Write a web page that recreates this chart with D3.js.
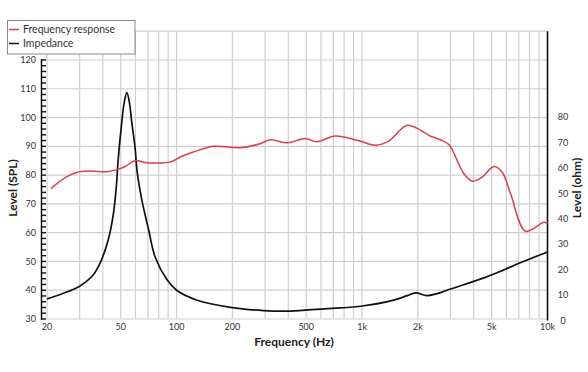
<!DOCTYPE html>
<html>
<head>
<meta charset="utf-8">
<script src="https://cdn.jsdelivr.net/npm/d3@7"></script>
<style>
  body { margin: 0; background: #fff; }
  svg { display: block; font-family: Lato, "Noto Sans", sans-serif; }
</style>
</head>
<body>
<script>
// frequency response (Hz, dB SPL)
const frFreq = [21, 24.5, 28.9, 34.1, 42, 47.6, 52.8, 59.6, 69, 79.8, 92, 104.6, 123, 158, 220, 282, 320, 394, 494, 570, 718, 940, 1182, 1392, 1761, 2340, 2640, 2938, 3540, 3950, 4448, 5140, 5700, 6325, 7620, 9570, 10000];
const frLevel = [75.3, 78.7, 80.9, 81.4, 81.2, 81.9, 83.0, 85.0, 84.3, 84.2, 84.5, 86.3, 88.0, 90.0, 89.5, 90.9, 92.3, 91.2, 92.7, 91.6, 93.6, 92.1, 90.4, 91.8, 97.3, 93.5, 92.3, 90.6, 80.5, 77.9, 79.3, 83.0, 81.0, 73.5, 60.5, 63.6, 63.1];

// impedance (Hz, ohm)
const zFreq = [20, 24.5, 30, 34.9, 38.6, 42.8, 45.6, 47.2, 48.5, 50.6, 52.2, 53.9, 55.6, 57.3, 59.6, 61.4, 64.9, 70.5, 76.6, 88.6, 100, 129, 195, 294, 410, 620, 980, 1484, 1752, 1948, 2230, 2540, 3000, 4540, 5580, 7460, 10000];
const zOhm = [8.5, 10.7, 13.5, 17.3, 22.5, 31.8, 42, 52, 64, 78, 86, 89.7, 86, 78, 68.5, 58, 47.5, 36, 25, 16.1, 11.9, 8.0, 5.2, 3.9, 3.7, 4.6, 5.6, 8.0, 9.8, 10.9, 9.8, 10.6, 12.4, 16.8, 19.4, 23.3, 27.0];

const xTicks = [20, 50, 100, 200, 500, 1000, 2000, 5000, 10000];
const xTickLabels = ["20", "50", "100", "200", "500", "1k", "2k", "5k", "10k"];
const splTicks = [30, 40, 50, 60, 70, 80, 90, 100, 110, 120];
const ohmTicks = [0, 10, 20, 30, 40, 50, 60, 70, 80];
const legendNames = ["Frequency response", "Impedance"];

const W = 588, H = 372;
const red = "#d8404a";

const svg = d3.select("body").append("svg")
    .attr("width", W)
    .attr("height", H);

const x = d3.scaleLog().domain([20, 10000]).range([47, 547.5]);
const y = d3.scaleLinear().domain([30, 130]).range([319, 31.2]);
const yz = d3.scaleLinear().domain([0, 80]).range([320.5, 117.3]);

// grid
var gridX = [];
[10, 100, 1000].forEach(d => d3.range(1, 10).forEach(k => gridX.push(d * k)));
gridX = gridX.filter(f => f >= 20 && f < 10000);

const grid = svg.append("g");
grid.selectAll(".gv")
    .data(gridX)
    .join("line")
    .attr("x1", d => x(d)).attr("x2", d => x(d))
    .attr("y1", y(130)).attr("y2", y(30))
    .attr("stroke", "#cfcfcf")
    .attr("stroke-width", 1.2);

grid.selectAll(".gh")
    .data(d3.range(30, 131, 10))
    .join("line")
    .attr("x1", x(20)).attr("x2", x(10000))
    .attr("y1", d => y(d)).attr("y2", d => y(d))
    .attr("stroke", "#cfcfcf")
    .attr("stroke-width", 1.2);

// left axis with minor ticks
const leftAxis = svg.append("g");
leftAxis.append("line")
    .attr("x1", 41.5).attr("x2", 41.5)
    .attr("y1", y(120) - 1).attr("y2", y(30) + 1)
    .attr("stroke", "#111").attr("stroke-width", 1.5);
leftAxis.selectAll(".mt")
    .data(d3.range(30, 121, 2))
    .join("line")
    .attr("x1", 41.5).attr("x2", 46)
    .attr("y1", d => y(d)).attr("y2", d => y(d))
    .attr("stroke", "#111").attr("stroke-width", 1.4);
leftAxis.selectAll("text")
    .data(splTicks)
    .join("text")
    .attr("x", 36)
    .attr("y", d => y(d))
    .attr("dy", "0.35em")
    .attr("text-anchor", "end")
    .attr("font-size", 9)
    .attr("fill", "#333")
    .text(d => d);

// right axis
svg.append("line")
    .attr("x1", x(10000)).attr("x2", x(10000))
    .attr("y1", y(130)).attr("y2", y(30) + 1.5)
    .attr("stroke", "#111").attr("stroke-width", 1.6);
svg.append("g").selectAll("text")
    .data(ohmTicks)
    .join("text")
    .attr("x", 563)
    .attr("y", d => yz(d))
    .attr("dy", "0.35em")
    .attr("text-anchor", "middle")
    .attr("font-size", 9)
    .attr("fill", "#333")
    .text(d => d);

// bottom labels
svg.append("g").selectAll("text")
    .data(xTicks)
    .join("text")
    .attr("x", d => x(d))
    .attr("y", 327)
    .attr("dy", "0.35em")
    .attr("text-anchor", "middle")
    .attr("font-size", 9)
    .attr("fill", "#333")
    .text((d, i) => xTickLabels[i]);

// axis titles
svg.append("text")
    .attr("x", 294).attr("y", 342)
    .attr("dy", "0.35em")
    .attr("text-anchor", "middle")
    .attr("font-size", 12).attr("font-weight", "bold")
    .attr("fill", "#222")
    .text("Frequency (Hz)");
svg.append("text")
    .attr("transform", "translate(13,188) rotate(-90)")
    .attr("dy", "0.35em")
    .attr("text-anchor", "middle")
    .attr("font-size", 12).attr("font-weight", "bold")
    .attr("fill", "#222")
    .text("Level (SPL)");
svg.append("text")
    .attr("transform", "translate(577,188) rotate(-90)")
    .attr("dy", "0.35em")
    .attr("text-anchor", "middle")
    .attr("font-size", 12).attr("font-weight", "bold")
    .attr("fill", "#222")
    .text("Level (ohm)");

// curves
const frData = frFreq.map((f, i) => [f, frLevel[i]]);
const zData = zFreq.map((f, i) => [f, zOhm[i]]);

svg.append("path")
    .datum(zData)
    .attr("fill", "none")
    .attr("stroke", "#111")
    .attr("stroke-width", 1.7)
    .attr("d", d3.line().x(d => x(d[0])).y(d => yz(d[1])).curve(d3.curveCatmullRom.alpha(0.5)));

svg.append("path")
    .datum(frData)
    .attr("fill", "none")
    .attr("stroke", red)
    .attr("stroke-width", 1.5)
    .attr("d", d3.line().x(d => x(d[0])).y(d => y(d[1])).curve(d3.curveCatmullRom.alpha(0.5)));

// legend
const legend = svg.append("g");
legend.append("rect")
    .attr("x", 7.5).attr("y", 20.5)
    .attr("width", 127.5).attr("height", 33.5)
    .attr("fill", "#fff")
    .attr("stroke", "#888").attr("stroke-width", 1);
legend.selectAll(".li")
    .data(legendNames)
    .join("g")
    .each(function(d, i) {
        const gi = d3.select(this);
        const cy = 29.5 + i * 14;
        gi.append("line")
            .attr("x1", 9).attr("x2", 19)
            .attr("y1", cy).attr("y2", cy)
            .attr("stroke", i == 0 ? red : "#111")
            .attr("stroke-width", 1.5);
        gi.append("text")
            .attr("x", 23).attr("y", cy)
            .attr("dy", "0.35em")
            .attr("font-size", 10.5)
            .attr("fill", "#333")
            .text(d);
    });
</script>
</body>
</html>
